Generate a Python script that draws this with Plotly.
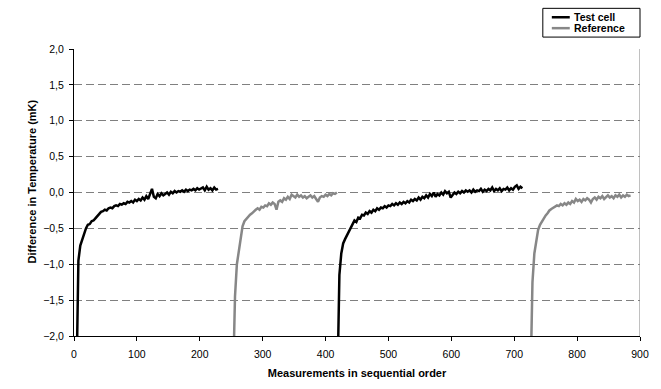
import plotly.graph_objects as go

# Sequential measurement index: start and step for each recorded run
test1_start, test1_step = 4, 3
test1_vals = [-2.6, -0.95, -0.74, -0.66, -0.57, -0.50, -0.45, -0.44, -0.40, -0.39,
              -0.36, -0.33, -0.30, -0.27, -0.26, -0.24, -0.25, -0.22, -0.21, -0.22,
              -0.19, -0.18, -0.19, -0.16, -0.17, -0.15, -0.16, -0.13, -0.14, -0.12,
              -0.14, -0.10, -0.12, -0.09, -0.11, -0.07, -0.10, -0.05, -0.09, -0.03,
              0.05, -0.06, -0.08, -0.02, -0.05, -0.01, -0.04, -0.02, 0.00, -0.03,
              0.01, -0.01, 0.02, 0.00, 0.02, 0.01, 0.03, 0.01, 0.04, 0.02,
              0.04, 0.03, 0.05, 0.03, 0.06, 0.04, 0.05, 0.07, 0.03, 0.08,
              0.04, 0.06, 0.03, 0.07, 0.04, 0.05]

ref1_start, ref1_step = 253, 3
ref1_vals = [-2.6, -1.45, -1.0, -0.80, -0.62, -0.47, -0.40, -0.37, -0.33, -0.31,
             -0.29, -0.26, -0.24, -0.22, -0.24, -0.20, -0.21, -0.18, -0.19, -0.15,
             -0.17, -0.14, -0.16, -0.24, -0.13, -0.11, -0.13, -0.08, -0.10, -0.06,
             -0.09, -0.03, -0.05, -0.07, -0.03, -0.06, -0.04, -0.07, -0.05, -0.08,
             -0.06, -0.04, -0.07, -0.05, -0.09, -0.13, -0.07, -0.05, -0.06, -0.03,
             -0.05, -0.02, -0.04, -0.01, -0.02, 0.00]

test2_start, test2_step = 419, 3
test2_vals = [-2.6, -1.15, -0.85, -0.71, -0.65, -0.60, -0.53, -0.48, -0.45, -0.39,
              -0.41, -0.35, -0.36, -0.31, -0.32, -0.28, -0.30, -0.26, -0.28, -0.24,
              -0.26, -0.22, -0.24, -0.21, -0.22, -0.19, -0.21, -0.18, -0.19, -0.16,
              -0.18, -0.15, -0.17, -0.14, -0.16, -0.13, -0.15, -0.12, -0.14, -0.10,
              -0.12, -0.09, -0.11, -0.07, -0.10, -0.06, -0.08, -0.04, -0.07, -0.02,
              -0.05, 0.00, -0.06, -0.02, -0.04, 0.00, -0.03, 0.02, -0.01, 0.01,
              -0.07, -0.03, 0.00, -0.02, 0.01, -0.01, 0.02, 0.00, 0.03, 0.01,
              0.03, 0.00, 0.04, 0.01, 0.03, 0.02, 0.05, 0.01, 0.04, 0.02,
              0.05, 0.03, 0.07, 0.02, 0.05, 0.03, 0.06, 0.02, 0.05, 0.04,
              0.07, 0.03, 0.06, 0.04, 0.08, 0.10, 0.05, 0.08, 0.06]

ref2_start, ref2_step = 726, 3
ref2_vals = [-2.6, -1.25, -0.85, -0.65, -0.52, -0.45, -0.40, -0.36, -0.32, -0.29,
             -0.25, -0.23, -0.21, -0.20, -0.18, -0.19, -0.16, -0.18, -0.15, -0.17,
             -0.14, -0.16, -0.12, -0.14, -0.09, -0.12, -0.10, -0.13, -0.09, -0.11,
             -0.08, -0.10, -0.14, -0.09, -0.07, -0.10, -0.06, -0.08, -0.05, -0.09,
             -0.06, -0.04, -0.07, -0.05, -0.08, -0.04, -0.06, -0.03, -0.07, -0.04,
             -0.06, -0.03, -0.05, -0.04]

y_ticks = [-2.0, -1.5, -1.0, -0.5, 0.0, 0.5, 1.0, 1.5, 2.0]
x_ticks = [0, 100, 200, 300, 400, 500, 600, 700, 800, 900]
series_names = ["Test cell", "Reference"]

TEST_COLOR = "#000000"
REF_COLOR = "#878787"
FONT = "Liberation Sans, Arial, sans-serif"


def idx(start, step, vals):
    return [start + step * i for i in range(len(vals))]


fig = go.Figure()
runs = [
    (series_names[0], test1_start, test1_step, test1_vals, TEST_COLOR),
    (series_names[1], ref1_start, ref1_step, ref1_vals, REF_COLOR),
    (series_names[0], test2_start, test2_step, test2_vals, TEST_COLOR),
    (series_names[1], ref2_start, ref2_step, ref2_vals, REF_COLOR),
]
for name, s, st, vals, col in runs:
    fig.add_trace(go.Scatter(
        x=idx(s, st, vals), y=vals, mode="lines", name=name,
        line=dict(color=col, width=2.5), showlegend=False,
    ))

# right-hand plot border
fig.add_shape(type="line", xref="x", yref="paper", x0=900, x1=900, y0=0, y1=1,
              line=dict(color="#808080", width=1))

# compact boxed legend (Excel style)
fig.add_shape(type="rect", xref="paper", yref="paper",
              x0=0.8283, x1=1.0, y0=1.0415, y1=1.1417,
              line=dict(color="#000000", width=1), fillcolor="white")
for name, col, yy in [(series_names[0], TEST_COLOR, 1.1106),
                      (series_names[1], REF_COLOR, 1.0726)]:
    fig.add_shape(type="line", xref="paper", yref="paper",
                  x0=0.8442, x1=0.8759, y0=yy, y1=yy,
                  line=dict(color=col, width=2.5))
    fig.add_annotation(xref="paper", yref="paper", x=0.8794, y=yy,
                       xanchor="left", yanchor="middle", showarrow=False,
                       text=name,
                       font=dict(family=FONT, size=10.5, color="#000000",
                                 weight="bold"))

# y-axis title
fig.add_annotation(xref="paper", yref="paper", x=-0.0735, y=0.54,
                   xanchor="center", yanchor="middle", showarrow=False,
                   textangle=-90, text="Difference in Temperature (mK)",
                   font=dict(family=FONT, size=11, color="#000000", weight="bold"))

fig.update_layout(
    width=661, height=389,
    margin=dict(l=74, r=21, t=49, b=51),
    paper_bgcolor="white", plot_bgcolor="white",
    separators=", ",
    font=dict(family=FONT, size=10, color="#000000"),
    showlegend=False,
    xaxis=dict(
        range=[0, 900], tickvals=x_ticks, ticktext=[str(v) for v in x_ticks],
        showgrid=False, zeroline=False,
        showline=True, linecolor="#000000", linewidth=1,
        ticks="outside", ticklen=4, tickcolor="#000000",
        ticklabelstandoff=4,
        tickfont=dict(size=10.5),
        title=dict(text="Measurements in sequential order",
                   font=dict(family=FONT, size=11, weight="bold"), standoff=10),
    ),
    yaxis=dict(
        range=[-2.0, 2.0], tickvals=y_ticks, tickformat=".1f",
        showgrid=True, gridcolor="#808080", gridwidth=1, griddash="8px,4px",
        zeroline=False,
        showline=True, linecolor="#000000", linewidth=1,
        ticks="outside", ticklen=4, tickcolor="#000000",
        ticklabelstandoff=3,
        tickfont=dict(size=10.5),
    ),
)

fig.write_html("out.html")
